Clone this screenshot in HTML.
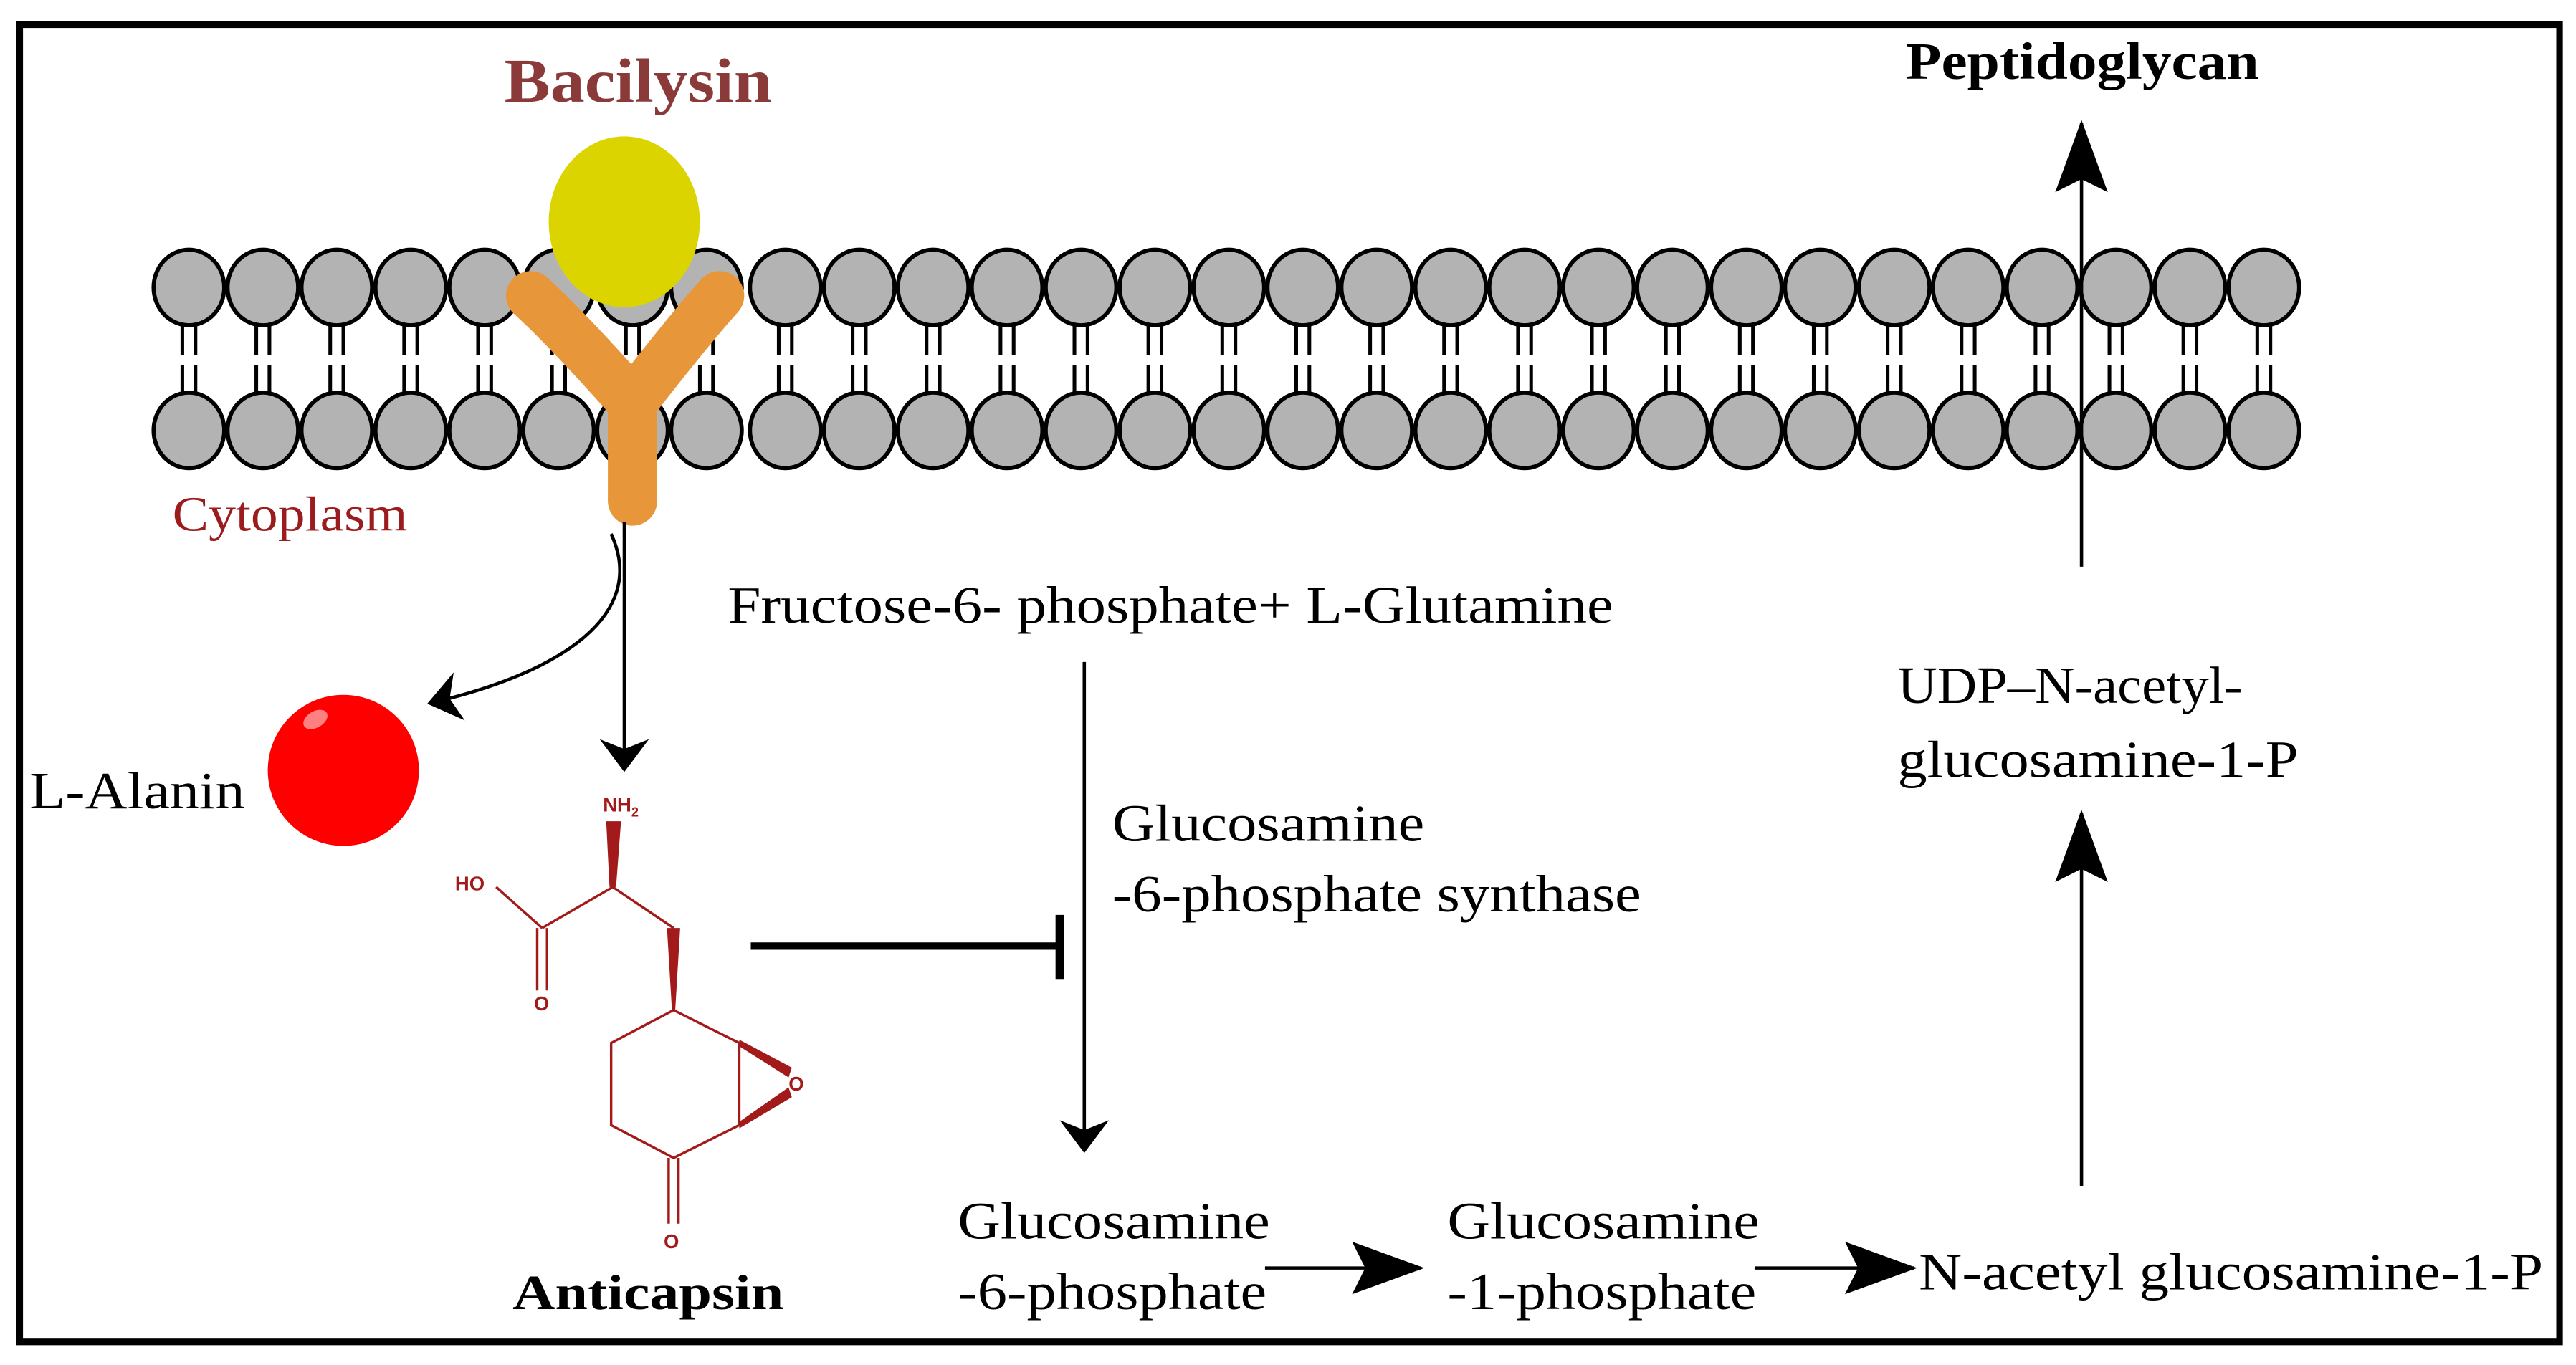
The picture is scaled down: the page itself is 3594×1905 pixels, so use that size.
<!DOCTYPE html>
<html><head><meta charset="utf-8"><style>html,body{margin:0;padding:0;background:#fff}svg{display:block}
.s{font-family:"Liberation Serif","Times New Roman",Times,serif}
.a{font-family:"Liberation Sans",Arial,sans-serif}
</style></head>
<body>
<svg xmlns="http://www.w3.org/2000/svg" xmlns:xlink="http://www.w3.org/1999/xlink" width="3594" height="1905" viewBox="0 0 1568 831">
<defs>
<marker id="ah" viewBox="0 0 20 30" refX="18" refY="15" markerWidth="20" markerHeight="30" markerUnits="userSpaceOnUse" orient="auto">
<path d="M0,0 L20,15 L0,30 L6,15 Z" fill="#000"/></marker>
<marker id="ah2" viewBox="0 0 44 32" refX="42" refY="16" markerWidth="44" markerHeight="32" markerUnits="userSpaceOnUse" orient="auto">
<path d="M0,0 L44,16 L0,32 L8,16 Z" fill="#000"/></marker>
<g id="lp">
<path d="M-4,198 L-4,216 M4,198 L4,216 M-4,222 L-4,240 M4,222 L4,240" stroke="#000" stroke-width="2.2" fill="none"/>
<ellipse cx="0" cy="175" rx="21.5" ry="23" fill="#b3b3b3" stroke="#000" stroke-width="2.5"/>
<ellipse cx="0" cy="262" rx="21.5" ry="23" fill="#b3b3b3" stroke="#000" stroke-width="2.5"/>
</g>
</defs>
<rect x="12" y="15" width="1546" height="802" fill="#fff" stroke="#000" stroke-width="4"/>
<g>
<use xlink:href="#lp" x="115"/><use xlink:href="#lp" x="160"/><use xlink:href="#lp" x="205"/><use xlink:href="#lp" x="250"/>
<use xlink:href="#lp" x="295"/><use xlink:href="#lp" x="340"/><use xlink:href="#lp" x="385"/><use xlink:href="#lp" x="430"/>
<use xlink:href="#lp" x="478"/><use xlink:href="#lp" x="523"/><use xlink:href="#lp" x="568"/><use xlink:href="#lp" x="613"/>
<use xlink:href="#lp" x="658"/><use xlink:href="#lp" x="703"/><use xlink:href="#lp" x="748"/><use xlink:href="#lp" x="793"/>
<use xlink:href="#lp" x="838"/><use xlink:href="#lp" x="883"/><use xlink:href="#lp" x="928"/><use xlink:href="#lp" x="973"/>
<use xlink:href="#lp" x="1018"/><use xlink:href="#lp" x="1063"/><use xlink:href="#lp" x="1108"/><use xlink:href="#lp" x="1153"/>
<use xlink:href="#lp" x="1198"/><use xlink:href="#lp" x="1243"/><use xlink:href="#lp" x="1288"/><use xlink:href="#lp" x="1333"/>
<use xlink:href="#lp" x="1378"/>
</g>
<ellipse cx="380" cy="135" rx="46" ry="52" fill="#dcd400"/>
<path d="M323,180 Q345,200 385,245 Q420,200 438,180 M385,240 L385,305" stroke="#e8963a" stroke-width="30" stroke-linecap="round" stroke-linejoin="round" fill="none"/>
<text class="s" x="307" y="62" textLength="163" lengthAdjust="spacingAndGlyphs" font-weight="bold" font-size="38" fill="#8b3a3a">Bacilysin</text>
<text class="s" x="1160" y="48" textLength="215" lengthAdjust="spacingAndGlyphs" font-weight="bold" font-size="32">Peptidoglycan</text>
<text class="s" x="105" y="323" textLength="143" lengthAdjust="spacingAndGlyphs" font-size="30" fill="#9b1c1c">Cytoplasm</text>
<g class="s" font-size="32" fill="#000">
<text x="18" y="492" textLength="131" lengthAdjust="spacingAndGlyphs">L-Alanin</text>
<text x="443" y="379" textLength="539" lengthAdjust="spacingAndGlyphs">Fructose-6- phosphate+ L-Glutamine</text>
<text x="677" y="512" textLength="190" lengthAdjust="spacingAndGlyphs">Glucosamine</text>
<text x="677" y="555" textLength="322" lengthAdjust="spacingAndGlyphs">-6-phosphate synthase</text>
<text x="583" y="754" textLength="190" lengthAdjust="spacingAndGlyphs">Glucosamine</text>
<text x="583" y="797" textLength="188" lengthAdjust="spacingAndGlyphs">-6-phosphate</text>
<text x="881" y="754" textLength="190" lengthAdjust="spacingAndGlyphs">Glucosamine</text>
<text x="881" y="797" textLength="188" lengthAdjust="spacingAndGlyphs">-1-phosphate</text>
<text x="1168" y="785" textLength="380" lengthAdjust="spacingAndGlyphs">N-acetyl glucosamine-1-P</text>
<text x="1155" y="428" textLength="210" lengthAdjust="spacingAndGlyphs">UDP–N-acetyl-</text>
<text x="1155" y="473" textLength="244" lengthAdjust="spacingAndGlyphs">glucosamine-1-P</text>
</g>
<text class="s" x="312" y="797" textLength="165" lengthAdjust="spacingAndGlyphs" font-weight="bold" font-size="30">Anticapsin</text>
<g stroke="#000" fill="none" stroke-width="2">
<path d="M380,318 L380,468" marker-end="url(#ah)"/>
<path d="M372,325 C395,375 340,410 262,428" marker-end="url(#ah)"/>
<path d="M660,403 L660,700" marker-end="url(#ah)"/>
<path d="M1267,345 L1267,75" marker-end="url(#ah2)"/>
<path d="M1267,722 L1267,495" marker-end="url(#ah2)"/>
<path d="M770,772 L865,772" marker-end="url(#ah2)"/>
<path d="M1068,772 L1165,772" marker-end="url(#ah2)"/>
<path d="M457,576 L645,576" stroke-width="4.5"/>
<path d="M645,557 L645,596" stroke-width="5"/>
</g>
<circle cx="209" cy="469" r="46" fill="#f00"/>
<ellipse cx="192" cy="438" rx="8" ry="5" fill="#ff8080" transform="rotate(-30 192 438)"/>
<g stroke="#a31a1a" stroke-width="1.5" fill="none">
<path d="M330,565 L373,540 L410,565"/>
<path d="M302,540 L330,565"/>
<path d="M327,565 L327,603 M333,565 L333,603"/>
<path d="M410,615 L450,635 L450,685 L410,705 L372,685 L372,635 Z"/>
<path d="M407,705 L407,745 M413,705 L413,745"/>
</g>
<g fill="#a31a1a">
<path d="M371,540 L375,540 L378,500 L369,500 Z"/>
<path d="M406,565 L414,565 L411,615 L409,615 Z"/>
<path d="M450,633 L450,637 L480,656 L482,650 Z"/>
<path d="M450,683 L450,687 L482,668 L480,662 Z"/>
</g>
<g class="a" font-weight="bold" font-size="12" fill="#a31a1a">
<text x="367" y="494">NH<tspan font-size="8" dy="3">2</tspan></text>
<text x="277" y="542">HO</text>
<text x="325" y="615">O</text>
<text x="480" y="664">O</text>
<text x="404" y="760">O</text>
</g>
</svg>
</body></html>
